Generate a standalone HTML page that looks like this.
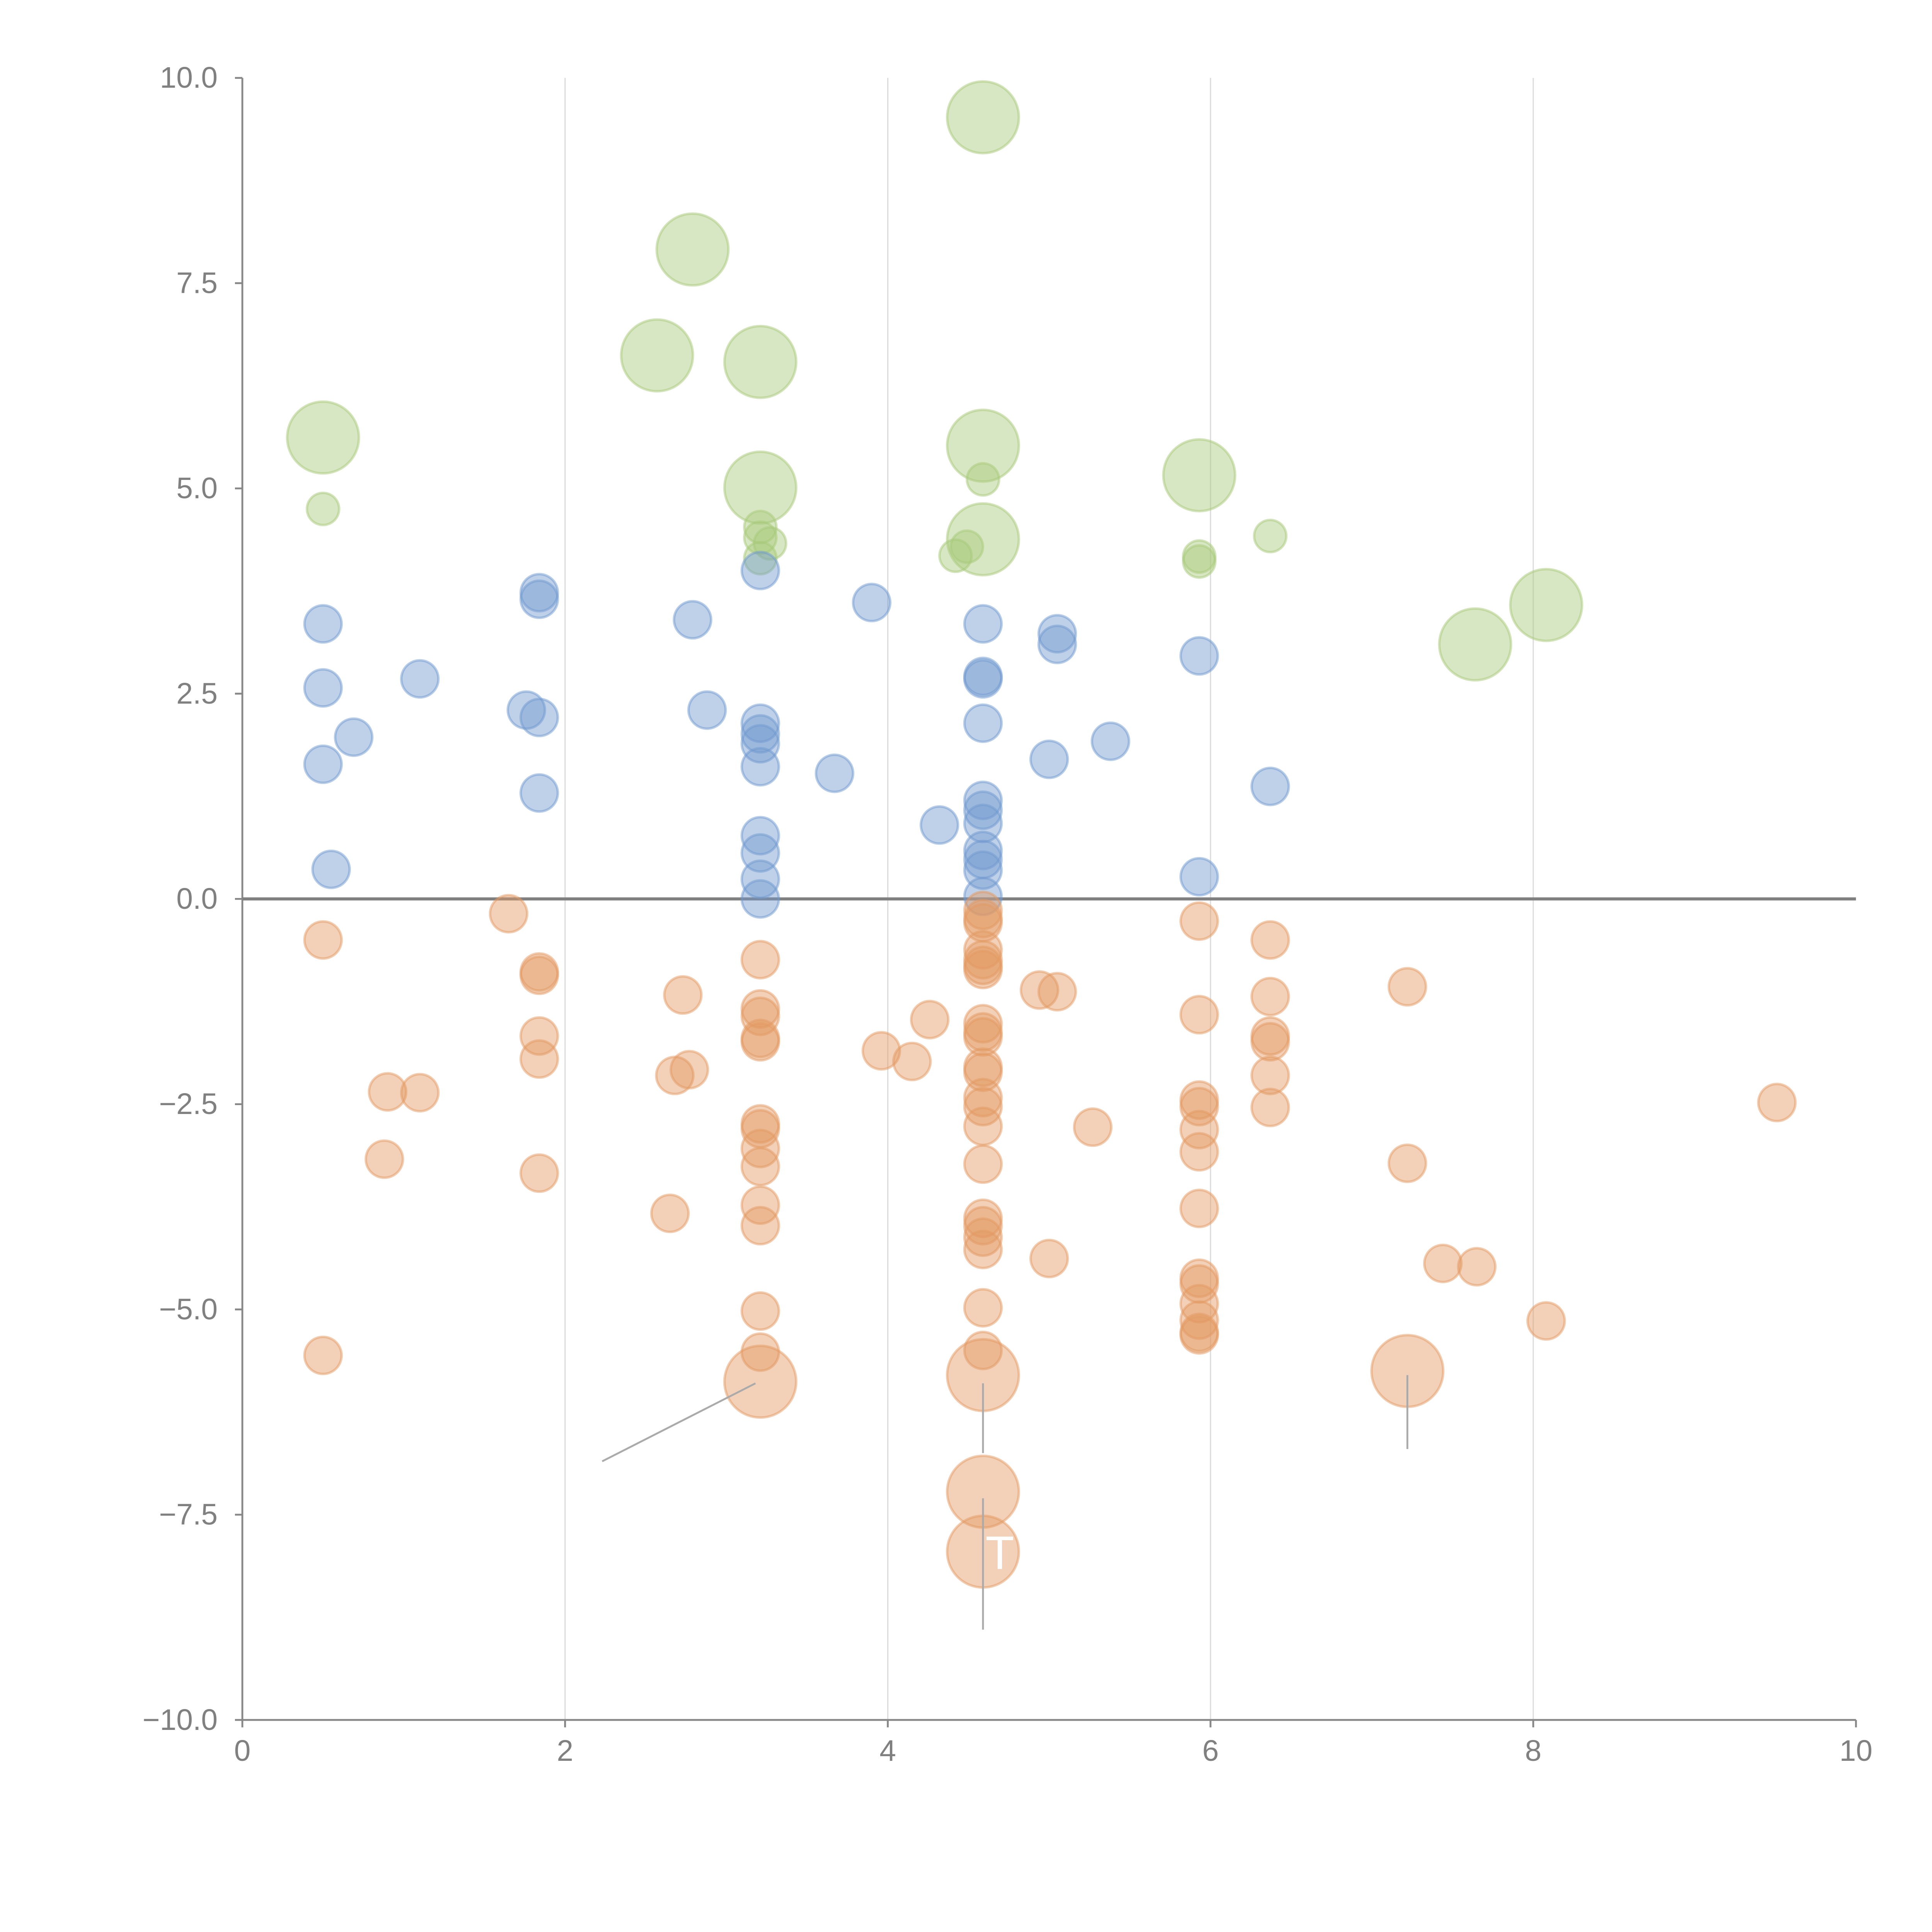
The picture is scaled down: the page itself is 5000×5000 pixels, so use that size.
<!DOCTYPE html>
<html><head><meta charset="utf-8"><style>
html,body{margin:0;padding:0;background:#fff;}
svg{display:block;}
text{font-family:"Liberation Sans",sans-serif;fill:#808080;}
</style></head><body>
<svg id="chart" width="5000" height="5000" viewBox="0 0 1562.5 1562.5" xmlns="http://www.w3.org/2000/svg">
<g id="grid"></g>
<g id="axes"></g>
<g id="marks"></g>
<g id="annot"></g>
</svg>
<script>
const xTicks=[0,2,4,6,8,10];
const yTicks=[-10,-7.5,-5,-2.5,0,2.5,5,7.5,10];
const yTickLabels=["−10.0","−7.5","−5.0","−2.5","0.0","2.5","5.0","7.5","10.0"];
const greenX=[0.5,0.5,2.79,2.57,3.21,3.21,3.21,3.21,3.27,3.21,4.59,4.59,4.59,4.59,4.42,4.49,5.93,5.93,5.93,6.37,7.64,8.08];
const greenY=[5.62,4.75,7.91,6.62,6.54,5.01,4.53,4.4,4.33,4.15,9.52,5.52,5.11,4.38,4.18,4.29,5.16,4.17,4.11,4.42,3.10,3.58];
const greenS=[2,1,2,2,2,2,1,1,1,1,2,2,1,2,1,1,2,1,1,1,2,2];
const blueX=[0.5,0.5,0.69,0.5,0.55,1.10,1.76,1.84,1.84,1.84,1.84,2.79,2.88,3.21,3.21,3.21,3.21,3.21,3.21,3.21,3.21,3.21,3.67,3.90,4.32,4.59,4.59,4.59,4.59,4.59,4.59,4.59,4.59,4.59,4.59,4.59,5.0,5.05,5.05,5.38,5.93,5.93,6.37];
const blueY=[3.35,2.57,1.97,1.64,0.36,2.68,2.30,3.73,3.65,2.21,1.29,3.40,2.30,4.00,2.14,2.01,1.89,1.61,0.77,0.56,0.24,0.0,1.53,3.61,0.90,3.35,2.71,2.68,2.14,1.20,1.08,0.92,0.59,0.48,0.35,0.03,1.70,3.23,3.10,1.92,2.96,0.27,1.37];
const orangeX=[0.5,0.5,0.88,0.90,1.10,1.65,1.84,1.84,1.84,1.84,1.84,2.65,2.68,2.73,2.77,3.21,3.21,3.21,3.21,3.21,3.21,3.21,3.21,3.21,3.21,3.21,3.21,3.21,3.21,3.96,4.15,4.26,4.59,4.59,4.59,4.59,4.59,4.59,4.59,4.59,4.59,4.59,4.59,4.59,4.59,4.59,4.59,4.59,4.59,4.59,4.59,4.59,4.59,4.59,4.59,4.59,4.59,4.94,5.05,5.0,5.27,5.93,5.93,5.93,5.93,5.93,5.93,5.93,5.93,5.93,5.93,5.93,5.93,5.93,6.37,6.37,6.37,6.37,6.37,6.37,7.22,7.22,7.22,7.44,7.65,8.08,9.51];
const orangeY=[-0.5,-5.56,-3.17,-2.35,-2.36,-0.18,-0.89,-0.93,-1.67,-1.95,-3.34,-3.83,-2.15,-1.17,-2.08,-0.74,-1.34,-1.43,-1.70,-1.74,-2.74,-2.80,-3.04,-3.26,-3.73,-3.98,-5.02,-5.52,-5.88,-1.85,-1.98,-1.47,-0.14,-0.24,-0.29,-0.62,-0.74,-0.81,-0.86,-1.52,-1.62,-1.68,-2.05,-2.11,-2.42,-2.53,-2.77,-3.23,-3.89,-3.98,-4.12,-4.27,-4.98,-5.50,-5.80,-7.22,-7.95,-1.11,-1.13,-4.38,-2.78,-0.27,-1.41,-2.45,-2.53,-2.81,-3.08,-3.77,-4.62,-4.69,-4.93,-5.13,-5.28,-5.31,-0.5,-1.19,-1.67,-1.74,-2.15,-2.54,-1.07,-3.22,-5.75,-4.44,-4.48,-5.14,-2.48];
const orangeBig=[28,54,55,56,82];
const X0=196,X1=1501,Y0=1391,Y1=63;
function sx(v){return X0+(v-0)/(10-0)*(X1-X0);}
function sy(v){return Y0-(v+10)/20*(Y0-Y1);}
const NS="http://www.w3.org/2000/svg";
function mk(tag,attrs,parent){const e=document.createElementNS(NS,tag);for(const k in attrs)e.setAttribute(k,attrs[k]);parent.appendChild(e);return e;}
const grid=document.getElementById('grid'),axes=document.getElementById('axes'),marks=document.getElementById('marks'),annot=document.getElementById('annot');
xTicks.forEach(t=>{
  if(t>0&&t<10){const l=mk('line',{x1:sx(t),x2:sx(t),y1:Y1,y2:Y0,stroke:'#dcdcdc','stroke-width':1},grid);
  
  }
  const tk=mk('line',{x1:sx(t),x2:sx(t),y1:Y0,y2:Y0+6,stroke:'#888','stroke-width':1.5},axes);
  
  
  const tx=mk('text',{x:sx(t),y:Y0+33,'text-anchor':'middle','font-size':24},axes);
  tx.textContent=String(t);
  
  
});
yTicks.forEach((t,i)=>{
  const tk=mk('line',{x1:X0-6,x2:X0,y1:sy(t),y2:sy(t),stroke:'#888','stroke-width':1.5},axes);
  
  
  const tx=mk('text',{x:X0-20,y:sy(t)+8,'text-anchor':'end','font-size':24},axes);
  tx.textContent=yTickLabels[i];
  
  
});
const ya=mk('line',{x1:X0,x2:X0,y1:Y1,y2:Y0,stroke:'#888','stroke-width':1.5},axes);


const xa=mk('line',{x1:X0,x2:X1,y1:Y0,y2:Y0,stroke:'#888','stroke-width':1.5},axes);


const zl=mk('line',{x1:X0,x2:X1,y1:sy(0),y2:sy(0),stroke:'#808080','stroke-width':2.5},axes);


function dot(x,y,r,col,name){
  const c=mk('circle',{cx:sx(x),cy:sy(y),r:r,fill:col,'fill-opacity':0.45,stroke:col,'stroke-opacity':0.5,'stroke-width':2},marks);
  
  
}
greenX.forEach((x,i)=>dot(x,greenY[i],greenS[i]==2?29:13,'#a8c97a','bubble-green'));
blueX.forEach((x,i)=>dot(x,blueY[i],15,'#7099cf','bubble-blue'));
orangeX.forEach((x,i)=>dot(x,orangeY[i],orangeBig.includes(i)?29:15,'#e39a62','bubble-orange'));
[[3.18,-5.9,2.23,-6.85],[4.59,-5.9,4.59,-6.75],[4.59,-7.3,4.59,-8.9],[7.22,-5.8,7.22,-6.7]].forEach(s=>{
  const l=mk('line',{x1:sx(s[0]),y1:sy(s[1]),x2:sx(s[2]),y2:sy(s[3]),stroke:'#aaa','stroke-width':1.5},annot);
  
  
});
const T=mk('text',{x:sx(4.59)+2,y:sy(-7.95)+14,'font-size':38,style:'fill:#fff'},annot);
T.textContent='T';


</script>
</body></html>
